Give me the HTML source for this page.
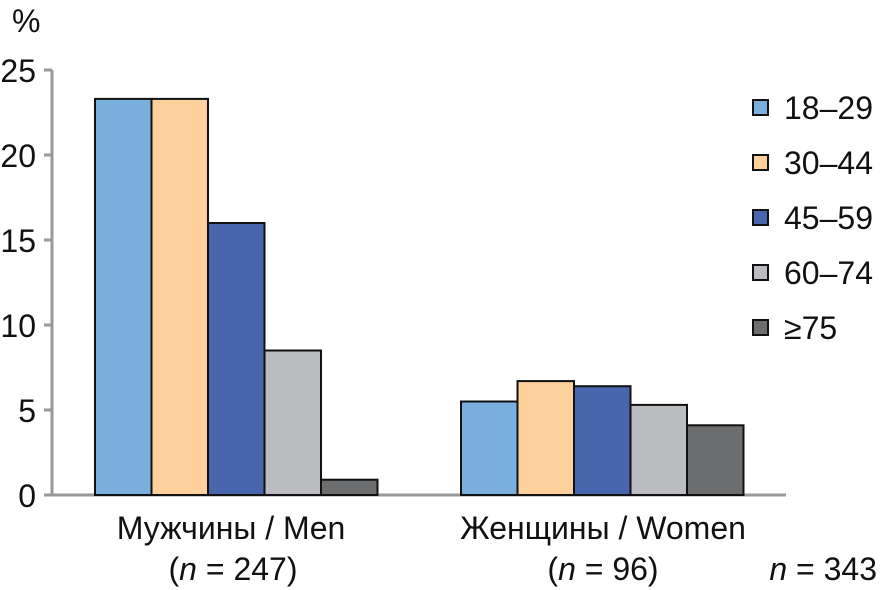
<!DOCTYPE html>
<html><head><meta charset="utf-8"><style>
body{margin:0;background:#fff;width:880px;height:590px;overflow:hidden}
svg{display:block;font-family:"Liberation Sans","DejaVu Sans",sans-serif}
</style></head><body>
<svg id="chart" width="880" height="590">
<text x="12" y="32" font-size="32" fill="#111">%</text>
<g id="axes"></g><g id="bars"></g><g id="legend"></g>
<text x="231" y="539" font-size="32" text-anchor="middle" fill="#111">Мужчины / Men</text>
<text x="233" y="580" font-size="32" text-anchor="middle" fill="#111">(<tspan font-style="italic">n</tspan> = 247)</text>
<text x="603" y="539" font-size="32" text-anchor="middle" fill="#111">Женщины / Women</text>
<text x="603" y="580" font-size="32" text-anchor="middle" fill="#111">(<tspan font-style="italic">n</tspan> = 96)</text>
<text x="877" y="580" font-size="32" text-anchor="end" fill="#111"><tspan font-style="italic">n</tspan> = 343</text>
</svg>
<script>
const groups=["Мужчины / Men","Женщины / Women"];
const seriesNames=["18–29","30–44","45–59","60–74","≥75"];
const menValues=[23.3,23.3,16.0,8.5,0.9];
const womenValues=[5.5,6.7,6.4,5.3,4.1];
const yTicks=[0,5,10,15,20,25];
const colors=["#7aaedd","#fdd09c","#4866ae","#bbbcc0","#6c6d6f"];
const NS="http://www.w3.org/2000/svg";
const y0=495,scale=17,barW=56.5;
const groupStart=[95,461];
const y=v=>y0-v*scale;
function mk(t,a,p){const e=document.createElementNS(NS,t);for(const k in a)e.setAttribute(k,a[k]);p.appendChild(e);return e;}
const axes=document.getElementById('axes');
const ax=mk('line',{x1:52,y1:y(25),x2:52,y2:y0,stroke:'#999',"stroke-width":3},axes);


const bl=mk('line',{x1:44,y1:y0,x2:786,y2:y0,stroke:'#999',"stroke-width":3},axes);


yTicks.forEach(t=>{
  const l=mk('line',{x1:44,y1:y(t),x2:52,y2:y(t),stroke:'#999',"stroke-width":3},axes);
  
  
  const tx=mk('text',{x:36,y:y(t)+12,"font-size":32,"text-anchor":"end",fill:'#111'},axes);
  tx.textContent=t;
  
  
});
const bars=document.getElementById('bars');
[menValues,womenValues].forEach((vals,g)=>{
  vals.forEach((v,i)=>{
    const r=mk('rect',{x:groupStart[g]+i*barW,y:y(v),width:barW,height:v*scale,fill:colors[i],stroke:'#111',"stroke-width":2},bars);
    
    
  });
});
const lg=document.getElementById('legend');
seriesNames.forEach((s,i)=>{
  const yy=100+i*55;
  const r=mk('rect',{x:753,y:yy,width:15,height:15,fill:colors[i],stroke:'#111',"stroke-width":2},lg);
  
  
  const t=mk('text',{x:784,y:yy+19,"font-size":32,fill:'#111'},lg);
  t.textContent=s;
  
  
});
</script>
</body></html>
